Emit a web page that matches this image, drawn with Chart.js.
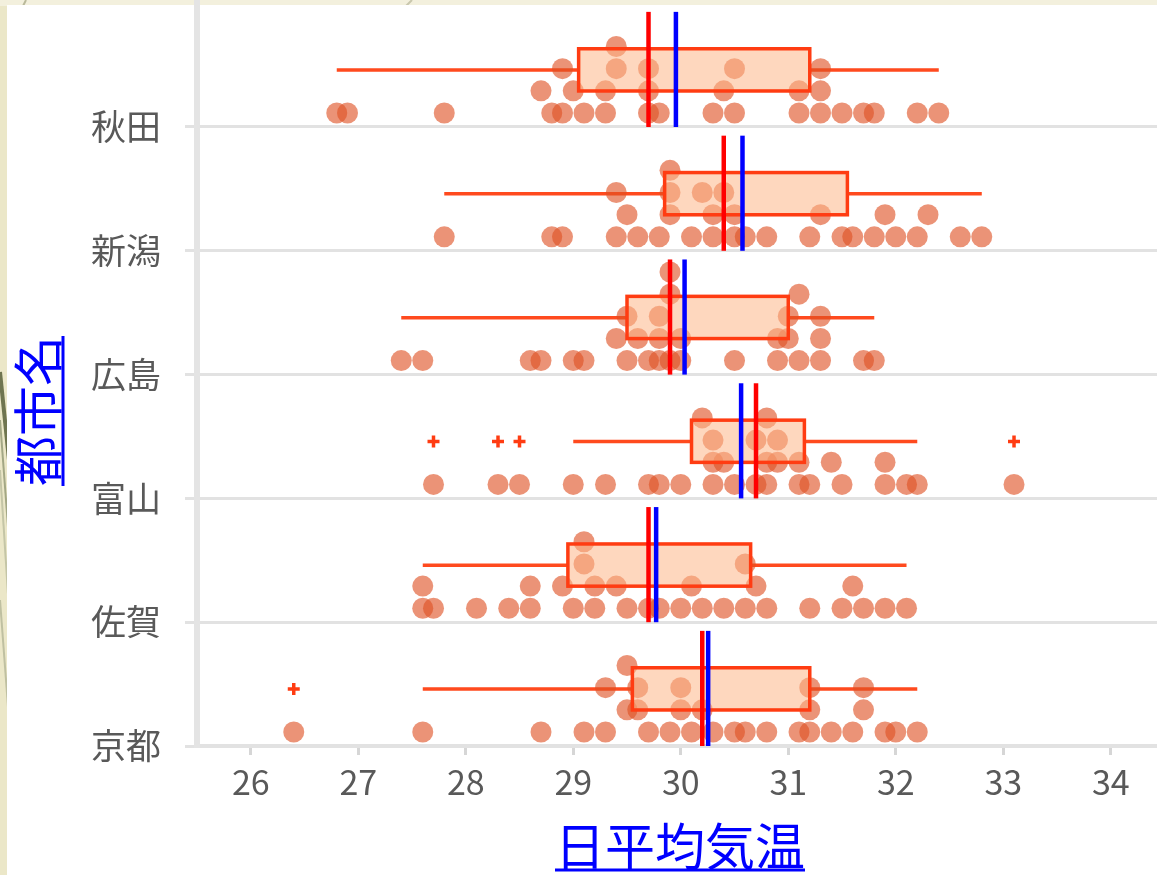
<!DOCTYPE html>
<html lang="ja">
<head>
<meta charset="utf-8">
<title>都市別 日平均気温</title>
<script src="https://cdn.jsdelivr.net/npm/chart.js@4.4.1/dist/chart.umd.min.js"></script>
<style>
  html, body { margin: 0; padding: 0; width: 1157px; height: 875px; overflow: hidden; background: #ebe7c8; }
  #deco { position: absolute; left: 0; top: 0; }
  #panel { position: absolute; left: 7px; top: 5px; width: 1150px; height: 870px; background: #ffffff; }
  #wrap { position: absolute; left: 0; top: 0; width: 1157px; height: 875px; }
</style>
</head>
<body>
<svg id="deco" width="1157" height="875" xmlns="http://www.w3.org/2000/svg">
  <rect x="0" y="0" width="1157" height="6" fill="#f3f0dd"/>
  <line x1="398" y1="14" x2="412" y2="0" stroke="#c9c7ad" stroke-width="2"/>
  <line x1="20" y1="12" x2="26" y2="0" stroke="#b9b99a" stroke-width="2"/>
  <line x1="0" y1="372" x2="9" y2="460" stroke="#6f7550" stroke-width="4"/>
  <line x1="0" y1="420" x2="9" y2="540" stroke="#a3a785" stroke-width="2"/>
  <line x1="0" y1="470" x2="9" y2="610" stroke="#c4c5a6" stroke-width="2"/>
  <line x1="0" y1="600" x2="9" y2="720" stroke="#bfc0a1" stroke-width="2"/>
</svg>
<div id="panel"></div>
<div id="wrap"><canvas id="c" width="1157" height="875"></canvas></div>
<script>
// Cities from bottom (index 0) to top of the axis
const cities = ['京都', '佐賀', '富山', '広島', '新潟', '秋田'];

// Daily mean temperatures (°C) per city, grouped into the stacked tiers of the dot plot
const kyotoTiers = [
  [26.4, 27.6, 28.7, 29.1, 29.3, 29.7, 29.9, 30.1, 30.3, 30.5, 30.6, 30.8, 31.1, 31.2, 31.4, 31.6, 31.9, 32.0, 32.2],
  [29.5, 29.6, 30.0, 30.2, 31.2, 31.7],
  [29.3, 29.6, 30.0, 31.2, 31.7],
  [29.5]
];
const sagaTiers = [
  [27.6, 27.7, 28.1, 28.4, 28.6, 29.0, 29.2, 29.5, 29.7, 29.8, 30.0, 30.2, 30.4, 30.6, 30.8, 31.2, 31.5, 31.7, 31.9, 32.1],
  [27.6, 28.6, 28.9, 29.2, 29.4, 30.1, 30.7, 31.6],
  [29.1, 30.6],
  [29.1]
];
const toyamaTiers = [
  [27.7, 28.3, 28.5, 29.0, 29.3, 29.7, 29.8, 30.0, 30.3, 30.5, 30.7, 30.8, 31.1, 31.2, 31.5, 31.9, 32.1, 32.2, 33.1],
  [30.3, 30.4, 30.8, 30.9, 31.1, 31.4, 31.9],
  [30.3, 30.7, 30.9],
  [30.2, 30.8]
];
const hiroshimaTiers = [
  [27.4, 27.6, 28.6, 28.7, 29.0, 29.1, 29.5, 29.7, 29.8, 29.9, 30.0, 30.5, 30.9, 31.1, 31.3, 31.7, 31.8],
  [29.4, 29.6, 29.8, 30.0, 30.9, 31.0, 31.3],
  [29.5, 29.8, 31.0, 31.3],
  [29.9, 31.1],
  [29.9]
];
const niigataTiers = [
  [27.8, 28.8, 28.9, 29.4, 29.6, 29.8, 30.1, 30.3, 30.5, 30.6, 30.8, 31.2, 31.5, 31.6, 31.8, 32.0, 32.2, 32.6, 32.8],
  [29.5, 29.9, 30.3, 30.5, 31.3, 31.9, 32.3],
  [29.4, 29.9, 30.2, 30.4],
  [29.9]
];
const akitaTiers = [
  [26.8, 26.9, 27.8, 28.8, 28.9, 29.1, 29.3, 29.7, 29.8, 30.3, 30.5, 31.1, 31.3, 31.5, 31.7, 31.8, 32.2, 32.4],
  [28.7, 29.0, 29.3, 29.7, 30.4, 31.1, 31.3],
  [28.9, 29.4, 29.7, 30.5, 31.3],
  [29.4]
];

const xTicks = [26, 27, 28, 29, 30, 31, 32, 33, 34];
const cityTiers = [kyotoTiers, sagaTiers, toyamaTiers, hiroshimaTiers, niigataTiers, akitaTiers];

// Vertical layout inside each city band (in y-axis units above the band's baseline)
const DOT_BASE = 0.113, DOT_STEP = 0.179;
const BOX_LOW = 0.291, BOX_HIGH = 0.632, WHISKER_Y = 0.46, LINE_TOP = 0.93;

// Box-plot statistics (inclusive quartiles, 1.5 IQR fences)
function quantile(sorted, p) {
  const pos = (sorted.length - 1) * p;
  const lo = Math.floor(pos), hi = Math.ceil(pos);
  return sorted[lo] + (sorted[hi] - sorted[lo]) * (pos - lo);
}
function stats(tiers) {
  const v = tiers.flat().slice().sort((a, b) => a - b);
  const q1 = quantile(v, 0.25), med = quantile(v, 0.5), q3 = quantile(v, 0.75);
  const iqr = q3 - q1, lof = q1 - 1.5 * iqr, hif = q3 + 1.5 * iqr;
  const inside = v.filter(x => x >= lof && x <= hif);
  const mean = v.reduce((s, x) => s + x, 0) / v.length;
  return { q1, med, q3, mean, lo: inside[0], hi: inside[inside.length - 1], out: v.filter(x => x < lof || x > hif) };
}
const cityStats = cityTiers.map(stats);

const dotData = [];
cityTiers.forEach((tiers, ci) => {
  tiers.forEach((tier, k) => tier.forEach(v => dotData.push({ x: v, y: ci + DOT_BASE + k * DOT_STEP })));
});
const outlierData = [];
cityStats.forEach((s, ci) => s.out.forEach(v => outlierData.push({ x: v, y: ci + WHISKER_Y })));

const LABEL_FONT = '"Noto Sans CJK JP", "Noto Sans", sans-serif';
const BOX_STROKE = '#ff3c12';

const boxPlot = {
  id: 'boxPlot',
  beforeDatasetsDraw(chart) {
    const { ctx, scales: { x, y } } = chart;
    ctx.save();
    ctx.strokeStyle = '#ff4a1e';
    ctx.lineWidth = 3.5;
    cityStats.forEach((s, ci) => {
      const yy = y.getPixelForValue(ci + WHISKER_Y);
      ctx.beginPath();
      ctx.moveTo(x.getPixelForValue(s.lo), yy);
      ctx.lineTo(x.getPixelForValue(s.q1), yy);
      ctx.moveTo(x.getPixelForValue(s.q3), yy);
      ctx.lineTo(x.getPixelForValue(s.hi), yy);
      ctx.stroke();
    });
    ctx.restore();
  },
  afterDatasetsDraw(chart) {
    const { ctx, scales: { x, y } } = chart;
    ctx.save();
    cityStats.forEach((s, ci) => {
      const x1 = x.getPixelForValue(s.q1), x2 = x.getPixelForValue(s.q3);
      const yt = y.getPixelForValue(ci + BOX_HIGH), yb = y.getPixelForValue(ci + BOX_LOW);
      ctx.fillStyle = 'rgba(253,182,137,0.55)';
      ctx.fillRect(x1, yt, x2 - x1, yb - yt);
      ctx.strokeStyle = BOX_STROKE;
      ctx.lineWidth = 3.5;
      ctx.strokeRect(x1, yt, x2 - x1, yb - yt);
      const y0 = y.getPixelForValue(ci), y1 = y.getPixelForValue(ci + LINE_TOP);
      [[s.mean, '#0000ff'], [s.med, '#ff0000']].forEach(([v, col]) => {
        const px = x.getPixelForValue(v);
        ctx.strokeStyle = col;
        ctx.lineWidth = 4.5;
        ctx.beginPath();
        ctx.moveTo(px, y0);
        ctx.lineTo(px, y1);
        ctx.stroke();
      });
    });
    ctx.restore();
  },
  afterDraw(chart) {
    const { ctx } = chart;
    ctx.save();
    ctx.fillStyle = '#0000ff';
    ctx.strokeStyle = '#0000ff';
    ctx.font = '50px ' + LABEL_FONT;
    ctx.textAlign = 'center';
    ctx.textBaseline = 'middle';
    // x-axis title
    const xt = '日平均気温';
    const wx = ctx.measureText(xt).width;
    ctx.fillText(xt, 680, 846);
    ctx.lineWidth = 3;
    ctx.beginPath();
    ctx.moveTo(680 - wx / 2, 870);
    ctx.lineTo(680 + wx / 2, 870);
    ctx.stroke();
    // y-axis title
    const yt = '都市名';
    const wy = ctx.measureText(yt).width;
    ctx.translate(38, 411);
    ctx.rotate(-Math.PI / 2);
    ctx.fillText(yt, 0, 0);
    ctx.beginPath();
    ctx.moveTo(-wy / 2, 25);
    ctx.lineTo(wy / 2, 25);
    ctx.stroke();
    ctx.restore();
  }
};

new Chart(document.getElementById('c'), {
  type: 'scatter',
  data: {
    datasets: [
      {
        data: dotData,
        pointRadius: 10.5,
        pointBorderWidth: 0,
        pointBackgroundColor: 'rgba(222,80,35,0.62)',
        pointHoverRadius: 10.5
      },
      {
        data: outlierData,
        pointStyle: 'cross',
        pointRadius: 6,
        pointBorderWidth: 3.5,
        pointBorderColor: '#ff3c12',
        pointHoverRadius: 6
      }
    ]
  },
  options: {
    responsive: false,
    animation: false,
    events: [],
    layout: { autoPadding: false, padding: { left: 0, right: 0, top: 3.2, bottom: 0 } },
    plugins: { legend: { display: false }, tooltip: { enabled: false } },
    scales: {
      x: {
        type: 'linear',
        min: 25.5,
        max: 34.43,
        afterBuildTicks: s => { s.ticks = xTicks.map(v => ({ value: v })); },
        afterFit: s => { s.height = 129; s.paddingLeft = 0; s.paddingRight = 0; },
        ticks: { font: { family: LABEL_FONT, size: 34 }, color: '#595959', padding: 7, maxRotation: 0, autoSkip: false },
        grid: { drawOnChartArea: false, drawTicks: true, tickLength: 9, color: '#d6d6d6', lineWidth: 3 },
        border: { display: true, color: '#e2e2e2', width: 4 }
      },
      y: {
        type: 'linear',
        min: 0,
        max: 6,
        afterBuildTicks: s => { s.ticks = cities.map((_, i) => ({ value: i })); },
        afterFit: s => { s.width = 197; s.paddingTop = 0; s.paddingBottom = 0; },
        ticks: { callback: v => cities[v], font: { family: LABEL_FONT, size: 35 }, color: '#595959', padding: 24, autoSkip: false },
        grid: { color: '#e2e2e2', lineWidth: 3, tickLength: 12, drawTicks: true },
        border: { display: true, color: '#e4e4e4', width: 6 }
      }
    }
  },
  plugins: [boxPlot]
});
</script>
</body>
</html>
